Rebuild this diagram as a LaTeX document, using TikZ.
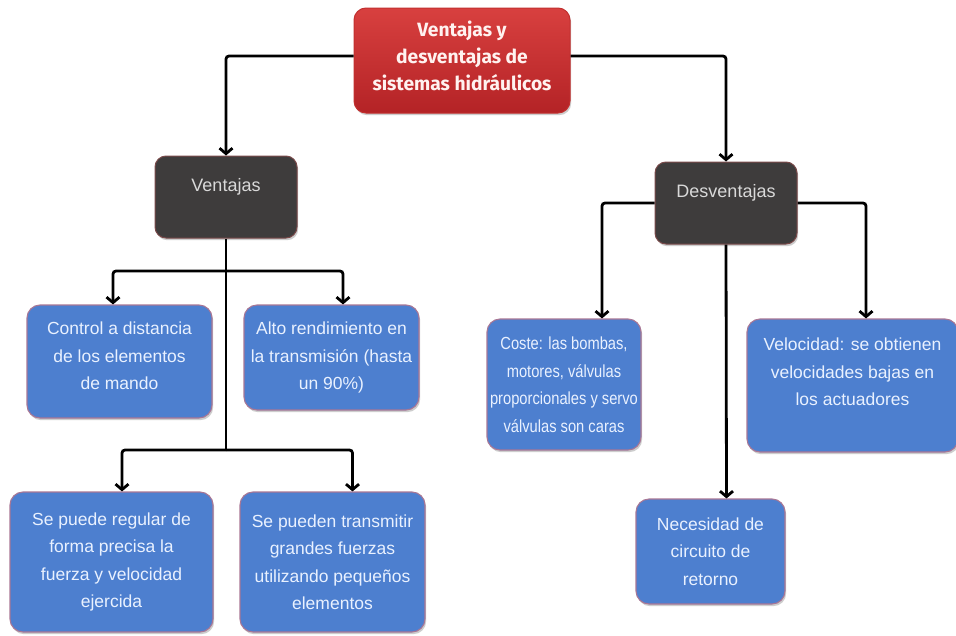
\documentclass[tikz,border=0pt]{standalone}
\usepackage{fontspec}
\setmainfont{Liberation Sans}
\newfontfamily\narrowfont{Liberation Sans}[FakeStretch=0.84]
\newfontfamily\headfont{Fira Sans}
\usetikzlibrary{arrows.meta,shadows}

\definecolor{boxblue}{HTML}{4D7FCF}
\definecolor{boxedge}{HTML}{A97795}
\definecolor{boxtext}{HTML}{E9F1FF}
\definecolor{darkfill}{HTML}{3E3C3C}
\definecolor{darkedge}{HTML}{7A4A4A}
\definecolor{darktext}{HTML}{D9D9D9}
\definecolor{redtop}{HTML}{D8403F}
\definecolor{redbot}{HTML}{B42326}
\definecolor{rededge}{HTML}{C2302F}
\definecolor{titletext}{HTML}{FFF2F0}

\begin{document}
\begin{tikzpicture}[x=1pt,y=-1pt,
  boxshadow/.style={drop shadow={shadow xshift=1.2pt,shadow yshift=-2.2pt,opacity=0.28,fill=black!70}},
  bluebox/.style={draw=boxedge,line width=1.1pt,fill=boxblue,rounded corners=13pt,
    text=boxtext,align=center,inner sep=0pt,boxshadow,
    font=\fontsize{17.5}{27.5}\selectfont},
  darkbox/.style={draw=darkedge,line width=1pt,fill=darkfill,rounded corners=11pt,
    text=darktext,align=center,inner sep=0pt,boxshadow,
    minimum width=142pt,minimum height=82pt,
    font=\fontsize{18}{24}\selectfont},
  titlebox/.style={draw=rededge,line width=1pt,top color=redtop,bottom color=redbot,
    rounded corners=12pt,text=titletext,align=center,inner sep=0pt,boxshadow,
    minimum width=216pt,minimum height=105pt,
    font=\headfont\bfseries\fontsize{19.2}{27}\selectfont},
  conn/.style={line width=2.8pt,rounded corners=3pt},
  arr/.style={conn,-{Straight Barb[length=5.5pt,width=13pt]}}
]
\useasboundingbox (0,0) rectangle (956,635);
\fill[white] (0,0) rectangle (956,635);

% top of the tree
\node[titlebox] (title) at (462,60.5)
  {Ventajas y\\desventajas de\\sistemas hidráulicos\\[-17pt]\mbox{}};

% the two branches
\node[darkbox] (vent) at (226,197) {Ventajas\\\mbox{}};
\node[darkbox] (desv) at (726,203) {Desventajas\\\mbox{}};

% advantages
\node[bluebox,minimum width=185pt,minimum height=113pt] (ctrl) at (119.5,361.5)
  {Control a distancia\\de los elementos\\de mando\\[-16pt]\mbox{}};
\node[bluebox,minimum width=175pt,minimum height=105pt] (alto) at (331.5,357.5)
  {Alto rendimiento en\\la transmisión (hasta\\un 90\%)};
\node[bluebox,minimum width=203pt,minimum height=140pt] (reg) at (111.5,562)
  {Se puede regular de\\forma precisa la\\fuerza y velocidad\\ejercida};
\node[bluebox,minimum width=185pt,minimum height=140pt] (trans) at (332.5,562)
  {Se pueden transmitir\\grandes fuerzas\\utilizando pequeños\\elementos};

% disadvantages
\node[bluebox,minimum width=154pt,minimum height=131pt,
      font=\narrowfont\fontsize{17.5}{27.5}\selectfont] (coste) at (564,384.5)
  {Coste: las bombas,\\motores, válvulas\\proporcionales y servo\\válvulas son caras};
\node[bluebox,minimum width=149pt,minimum height=105pt] (nec) at (710.5,551.5)
  {Necesidad de\\circuito de\\retorno};
\node[bluebox,minimum width=211pt,minimum height=133pt] (vel) at (852.5,385.5)
  {Velocidad: se obtienen\\velocidades bajas en\\los actuadores\\\mbox{}};

% junctions on the Ventajas trunk
\coordinate (j1) at (226,271);
\coordinate (j2) at (226,450);

% connectors
\draw[arr] ([yshift=4.5pt]title.west) -| (vent.north);
\draw[arr] ([yshift=4.5pt]title.east) -| (desv.north);

\draw[conn] (vent.south) -- (j2);
\draw[arr] (j1) -| ([xshift=-6.5pt]ctrl.north);
\draw[arr] (j1) -| ([xshift=11.5pt]alto.north);
\draw[arr] (j2) -| ([xshift=10.5pt]reg.north);
\draw[arr] (j2) -| ([xshift=20pt]trans.north);

\draw[arr] (desv.west) -| ([xshift=38pt]coste.north);
\draw[arr] (desv.east) -| ([xshift=13.5pt]vel.north);
\draw[arr] (desv.south) -- ([xshift=16pt]nec.north);
\end{tikzpicture}
\end{document}
